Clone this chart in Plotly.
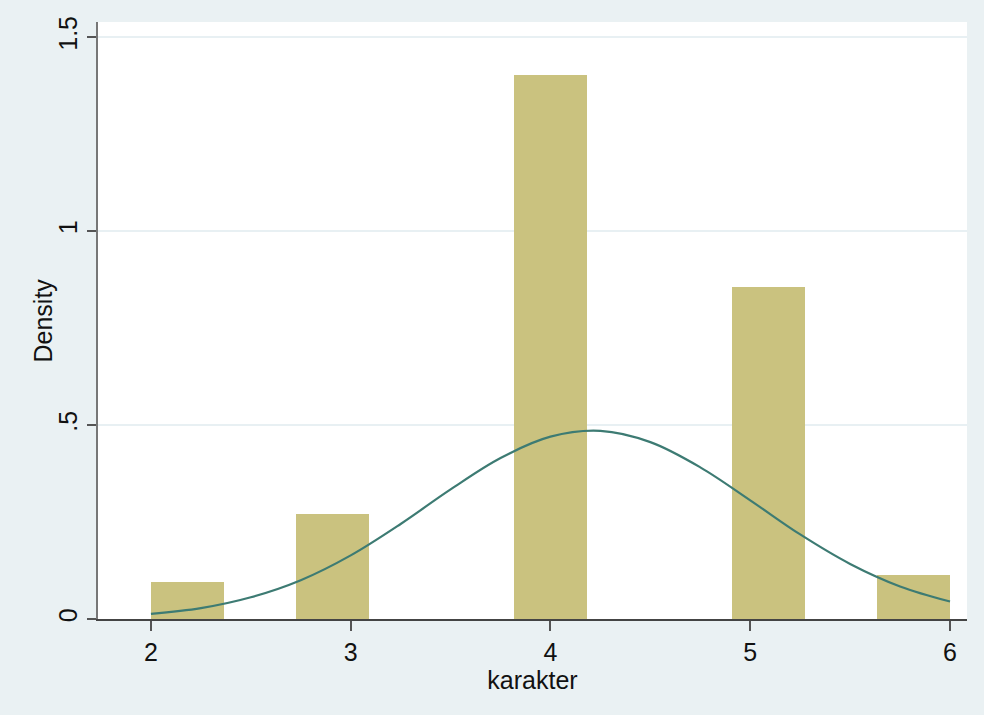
import plotly.graph_objects as go

# Histogram of karakter (11 bins from 2 to 6), density scale
bin_edges = [2.0, 2.3636, 2.7273, 3.0909, 3.4545, 3.8182, 4.1818, 4.5455, 4.9091, 5.2727, 5.6364, 6.0]
density = [0.095, 0.0, 0.270, 0.0, 0.0, 1.402, 0.0, 0.0, 0.856, 0.0, 0.113]

# Normal density overlay
curve_x = [2.0, 2.25, 2.5, 2.75, 3.0, 3.25, 3.5, 3.75, 4.0, 4.25, 4.5, 4.75, 5.0, 5.25, 5.5, 5.75, 6.0]
curve_y = [0.013, 0.028, 0.056, 0.100, 0.164, 0.245, 0.334, 0.415, 0.470, 0.485, 0.456, 0.391, 0.306, 0.218, 0.142, 0.084, 0.045]

x_ticks = [2, 3, 4, 5, 6]
y_ticks = [0, 0.5, 1, 1.5]
y_ticklabels = ["0", ".5", "1", "1.5"]

centers = [(a + b) / 2 for a, b in zip(bin_edges[:-1], bin_edges[1:])]
widths = [b - a for a, b in zip(bin_edges[:-1], bin_edges[1:])]

fig = go.Figure()
fig.add_trace(go.Bar(
    x=centers, y=density, width=widths,
    marker=dict(color="#cac27f", line=dict(width=0)),
    showlegend=False, hoverinfo="skip",
))
fig.add_trace(go.Scatter(
    x=curve_x, y=curve_y, mode="lines",
    line=dict(color="#3d7b73", width=2.2, shape="spline"),
    showlegend=False,
))

font_family = "Liberation Sans, Arial, sans-serif"
fig.update_layout(
    width=984, height=715,
    paper_bgcolor="#eaf1f3",
    plot_bgcolor="#ffffff",
    margin=dict(l=98, r=17, t=22, b=96),
    font=dict(family=font_family, size=25, color="#111111"),
    bargap=0,
    xaxis=dict(
        range=[1.735, 6.085],
        tickvals=x_ticks,
        ticks="outside", ticklen=10, tickwidth=1.5, tickcolor="#555555",
        showline=True, linecolor="#444444", linewidth=1.5,
        showgrid=False, zeroline=False,
        tickfont=dict(size=25, color="#111111"),
        title=dict(text="karakter", font=dict(size=25, color="#111111"), standoff=0),
    ),
    yaxis=dict(
        range=[0, 1.539],
        tickvals=y_ticks, ticktext=y_ticklabels,
        tickangle=-90,
        ticks="outside", ticklen=9, tickwidth=1.5, tickcolor="#555555",
        showline=True, linecolor="#777777", linewidth=1.5,
        showgrid=True, gridcolor="#e8f0f3", gridwidth=1.5,
        zeroline=False,
        tickfont=dict(size=25, color="#111111"),
    ),
    annotations=[dict(
        text="Density", textangle=-90, showarrow=False,
        xref="paper", yref="paper", x=-0.0644, y=0.5,
        xanchor="center", yanchor="middle",
        font=dict(size=25, color="#111111"),
    )],
)

fig.write_html(
    "out.html",
    config={"displayModeBar": False},
    post_script="document.body.style.margin='0';document.body.style.overflow='hidden';",
)
